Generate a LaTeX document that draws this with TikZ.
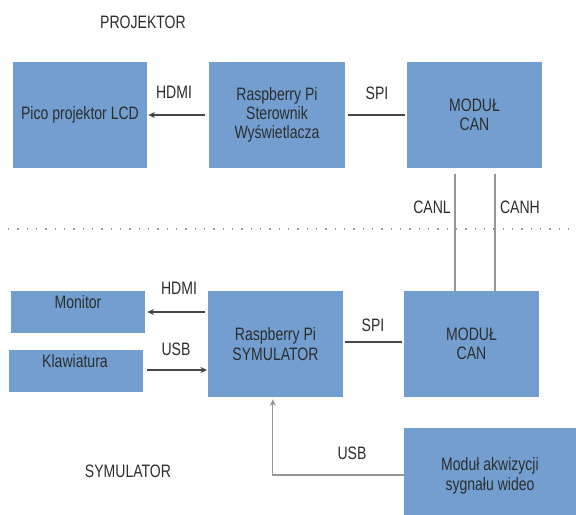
\documentclass[tikz,border=0pt]{standalone}
\usepackage{fontspec}
\setmainfont{Liberation Sans}[FakeStretch=0.78]
\usetikzlibrary{arrows.meta,calc}

\definecolor{blokblue}{RGB}{114,159,207}
\definecolor{tekst}{RGB}{45,45,45}
\definecolor{linia}{RGB}{70,70,70}
\definecolor{canline}{RGB}{150,150,150}

\tikzset{
  blok/.style={fill=blokblue,draw=none,inner sep=0pt,align=center,text=tekst},
  opis/.style={text=tekst,inner sep=0pt,align=center},
  polacz/.style={draw=linia,line width=0.8pt},
  strzal/.style={polacz,-{Stealth[length=5pt,width=4.5pt]}},
  magistrala/.style={draw=canline,line width=0.9pt}
}

\begin{document}
\begin{tikzpicture}[x=0.75pt,y=-0.75pt,font=\fontsize{13.5}{14.5}\selectfont]
\clip (0,0) rectangle (576,515);
\fill[white] (0,0) rectangle (576,515);

% projektor
\node (projTxt) at (143,22) [opis] {PROJEKTOR};
\node (proj) at (80,115) [blok,minimum width=134*0.75pt,minimum height=106*0.75pt] {Pico projektor LCD};
\node (rpiA) at (277,115) [blok,minimum width=136*0.75pt,minimum height=106*0.75pt] {Raspberry Pi\\Sterownik\\Wyświetlacza};
\node (canA) at (474.5,115) [blok,minimum width=135*0.75pt,minimum height=106*0.75pt] {MODUŁ\\CAN};

\draw[strzal,shorten <=2.5pt,shorten >=0.8pt] (rpiA.west) -- (proj.east);
\draw[polacz,shorten <=2pt,shorten >=1.5pt] (rpiA.east) -- (canA.west);
\node (hdmiA) at (174,92) [opis] {HDMI};
\node (spiA) at (377,93) [opis] {SPI};

% separator
\draw[canline,line width=0.8pt,dash pattern=on 1pt off 6pt] (8,229) -- (576,229);

% symulator
\node (monitor) at (78,312) [blok,minimum width=134*0.75pt,minimum height=42*0.75pt] {};
\node (monitorTxt) at (78,302) [opis] {Monitor};
\node (klaw) at (76,371) [blok,minimum width=134*0.75pt,minimum height=42*0.75pt] {};
\node (klawTxt) at (75,361) [opis] {Klawiatura};
\node (rpiB) at (275.5,344) [blok,minimum width=135*0.75pt,minimum height=106*0.75pt] {Raspberry Pi\\SYMULATOR};
\node (canB) at (471.5,344) [blok,minimum width=135*0.75pt,minimum height=106*0.75pt] {MODUŁ\\CAN};
\node (video) at (490,476) [blok,minimum width=172*0.75pt,minimum height=96*0.75pt] {Moduł akwizycji\\sygnału wideo};
\node (symTxt) at (128,471) [opis] {SYMULATOR};

\draw[strzal,shorten <=2pt,shorten >=1.5pt] (rpiB.west |- monitor.east) -- (monitor.east);
\draw[strzal,shorten <=3pt,shorten >=0.5pt] (klaw.east |- 0,370) -- (rpiB.west |- 0,370);
\draw[polacz,shorten <=1pt,shorten >=1pt] (rpiB.east |- 0,342) -- (canB.west |- 0,342);
\draw[polacz,draw=canline,-{Stealth[length=5pt,width=4.5pt]},shorten >=1.5pt] (video.west |- 0,475) -| ([xshift=-2pt]rpiB.south);
\node (hdmiB) at (179,288) [opis] {HDMI};
\node (usbB) at (176,349) [opis] {USB};
\node (spiB) at (373,325) [opis] {SPI};
\node (usbC) at (352,453) [opis] {USB};

% magistrala CAN
\draw[magistrala] ([xshift=-14.6pt,yshift=-4pt]canA.south) -- ([xshift=-14.6pt]canA.south |- canB.north) coordinate (canLdol);
\draw[magistrala] ([xshift=15.4pt,yshift=-4pt]canA.south) -- ([xshift=15.4pt]canA.south |- canB.north) coordinate (canHdol);
\node (canL) at (432,207) [opis] {CANL};
\node (canH) at (520,207) [opis] {CANH};
\end{tikzpicture}
\end{document}
